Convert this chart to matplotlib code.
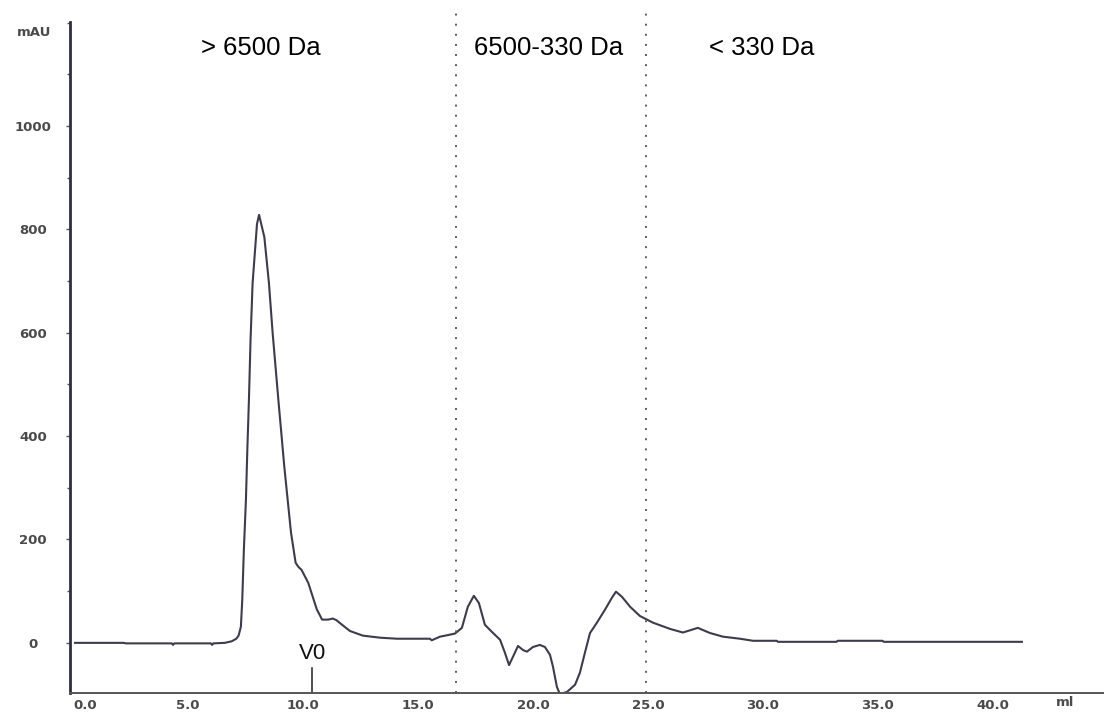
import matplotlib
matplotlib.use("Agg")
import matplotlib.pyplot as plt
from matplotlib.ticker import MultipleLocator

# Elution volume (ml) and UV absorbance (mAU) of the size-exclusion run
volume_ml = [
    0.09, 2.2, 2.3, 4.3, 4.35, 4.4, 6.0, 6.05, 6.1, 6.6, 6.9, 7.1, 7.2, 7.3,
    7.36, 7.43, 7.52, 7.58, 7.65, 7.72, 7.81, 7.94, 8.0, 8.09, 8.16, 8.32,
    8.52, 8.68, 8.93, 9.19, 9.48, 9.68, 9.8, 9.94, 10.23, 10.6, 10.83, 11.1,
    11.3, 11.45, 11.7, 12.04, 12.6, 13.35, 14.09, 15.09, 15.52, 15.6, 15.96,
    16.3, 16.61, 16.91, 17.17, 17.43, 17.65, 17.91, 18.22, 18.57, 18.78,
    18.96, 19.13, 19.35, 19.57, 19.74, 20.0, 20.3, 20.52, 20.74, 20.87, 21.04,
    21.17, 21.48, 21.83, 22.04, 22.26, 22.48, 22.78, 23.13, 23.43, 23.61,
    23.87, 24.22, 24.65, 25.22, 25.96, 26.52, 27.17, 27.7, 28.26, 29.0, 29.57,
    30.6, 30.65, 33.2, 33.25, 35.2, 35.25, 41.26,
]
absorbance_mau = [
    0, 0, -1, -1, -4, -1, -1, -4, -1, 0, 3, 8, 14, 31,
    83, 180, 277, 373, 470, 586, 696, 774, 810, 828, 815, 785,
    696, 600, 470, 340, 213, 155, 147, 141, 116, 65, 45, 45,
    47, 44, 35, 23, 14, 10, 8, 8, 8, 5, 12,
    15, 18, 29, 70, 91, 77, 35, 21, 6, -19,
    -43, -27, -6, -14, -17, -8, -4, -8, -23, -46, -85,
    -99, -95, -81, -58, -19, 19, 39, 64, 87, 99,
    89, 70, 52, 39, 27, 20, 29, 19, 12, 8, 4,
    4, 2, 2, 4, 4, 2, 2,
]

# Fraction boundaries and their molecular-weight ranges
cut_volumes = [16.65, 24.9]
range_labels = ["> 6500 Da", "6500-330 Da", "< 330 Da"]
range_label_x = [8.17, 20.7, 29.96]
v0_volume = 10.4

x_ticks = [0, 5, 10, 15, 20, 25, 30, 35, 40]
x_tick_labels = ["0.0", "5.0", "10.0", "15.0", "20.0", "25.0", "30.0", "35.0", "40.0"]
y_ticks = [0, 200, 400, 600, 800, 1000]
y_tick_labels = ["0", "200", "400", "600", "800", "1000"]

fig = plt.figure(figsize=(11.04, 7.13), dpi=100)
ax = fig.add_axes([70 / 1104, 20 / 713, 1034 / 1104, 671 / 713])

trace_color = "#3c3c4c"
ax.plot(volume_ml, absorbance_mau, color=trace_color, lw=1.5, solid_joinstyle="round")

ax.set_xlim(-0.13, 44.83)
ax.set_ylim(-97, 1201)

for xv in cut_volumes:
    ax.axvline(xv, ymin=0, ymax=1.015, color="#5e5e5e", lw=1.4,
               linestyle=(0, (1, 4.2)), clip_on=False)

for label, xv in zip(range_labels, range_label_x):
    ax.text(xv, 1151, label, ha="center", va="center", fontsize=18.5,
            family="Liberation Sans", color="black")

# Void volume marker
ax.plot([v0_volume, v0_volume], [-97, -48], color="#222222", lw=1.1)
ax.text(v0_volume, -20, "V0", ha="center", va="center", fontsize=16,
        family="Liberation Sans", color="#111111")

# Spines
for side in ("top", "right"):
    ax.spines[side].set_visible(False)
ax.spines["left"].set_color("#2e2e3e")
ax.spines["left"].set_linewidth(2.0)
ax.spines["bottom"].set_color("#555555")
ax.spines["bottom"].set_linewidth(1.4)

tick_font = dict(family="DejaVu Sans", weight="bold", size=9.5)
tick_color = "#4a4a4a"

# Ticks
ax.set_xticks(x_ticks)
ax.set_xticklabels(x_tick_labels, **tick_font)
ax.tick_params(axis="x", length=0, pad=4, labelcolor=tick_color)
ax.get_xticklabels()[0].set_horizontalalignment("left")

ax.set_yticks(y_ticks)
ax.set_yticklabels(y_tick_labels, **tick_font)
ax.yaxis.set_minor_locator(MultipleLocator(100))
ax.tick_params(axis="y", which="major", length=3, width=1, color="#555555",
               pad=23.5, labelcolor=tick_color)
ax.tick_params(axis="y", which="minor", length=2, width=1, color="#555555")
for lbl in ax.get_yticklabels():
    lbl.set_horizontalalignment("center")

# Axis unit labels
fig.text(34 / 1104, 1 - 33 / 713, "mAU", ha="center", va="center",
         color=tick_color, **tick_font)
fig.text(1065 / 1104, 1 - 703 / 713, "ml", ha="center", va="center",
         color=tick_color, **tick_font)

fig.savefig("out.png", dpi=100, facecolor="white")
